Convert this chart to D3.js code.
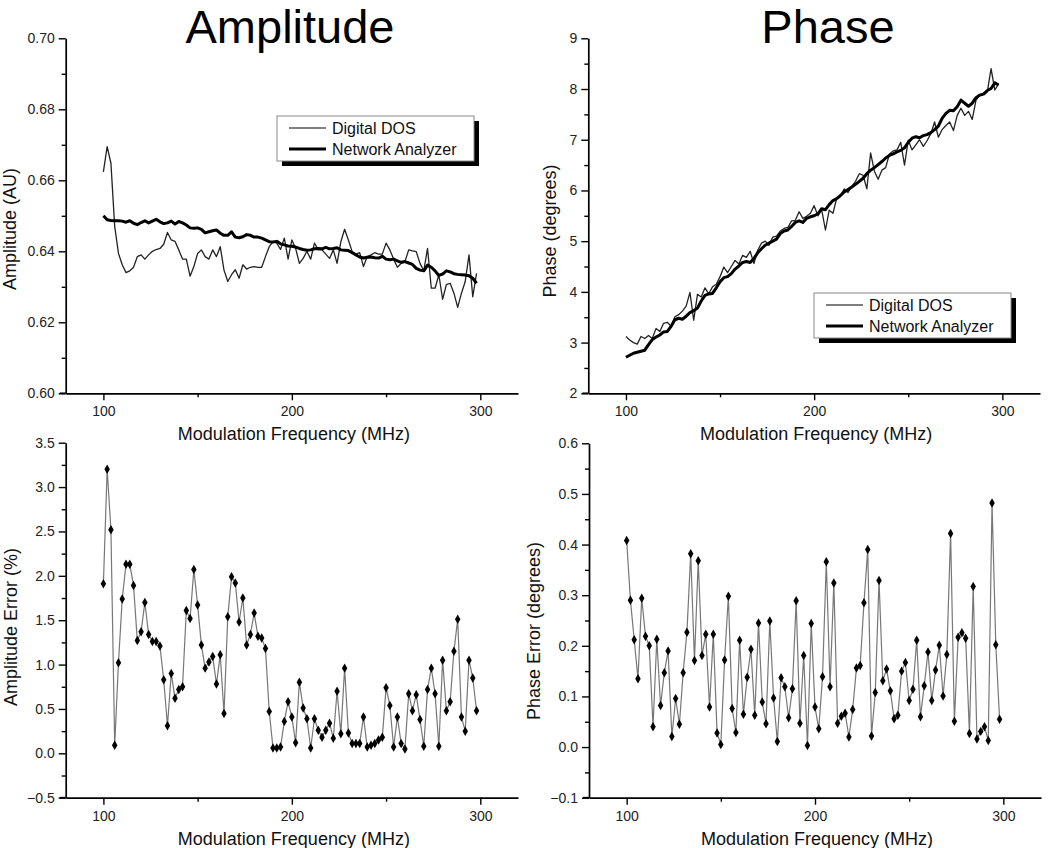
<!DOCTYPE html>
<html>
<head>
<meta charset="utf-8">
<script src="https://cdn.jsdelivr.net/npm/d3@7"></script>
<style>
  html, body { margin: 0; padding: 0; background: #fff; }
  svg { display: block; font-family: "Liberation Sans", Arial, sans-serif; }
</style>
</head>
<body>
<svg id="chart" width="1050" height="848"></svg>
<script>
// ---------------- DATA ----------------
const freq = [100,102,104,106,108,110,112,114,116,118,120,122,124,126,128,130,132,134,136,138,
  140,142,144,146,148,150,152,154,156,158,160,162,164,166,168,170,172,174,176,178,
  180,182,184,186,188,190,192,194,196,198,200,202,204,206,208,210,212,214,216,218,
  220,222,224,226,228,230,232,234,236,238,240,242,244,246,248,250,252,254,256,258,
  260,262,264,266,268,270,272,274,276,278,280,282,284,286,288,290,292,294,296,298];

const ampDigital = [0.6624,0.6695,0.6648,0.6470,0.6394,0.6362,0.6340,0.6345,0.6355,0.6385,
  0.6390,0.6378,0.6390,0.6400,0.6405,0.6408,0.6420,0.6453,0.6432,0.6428,
  0.6404,0.6378,0.6378,0.6330,0.6357,0.6394,0.6404,0.6385,0.6378,0.6404,
  0.6385,0.6413,0.6347,0.6315,0.6334,0.6348,0.6324,0.6362,0.6350,0.6355,
  0.6357,0.6355,0.6355,0.6385,0.6413,0.6427,0.6423,0.6405,0.6437,0.6378,
  0.6432,0.6408,0.6366,0.6380,0.6400,0.6378,0.6423,0.6405,0.6404,0.6392,
  0.6380,0.6404,0.6366,0.6427,0.6462,0.6432,0.6399,0.6392,0.6396,0.6357,
  0.6385,0.6390,0.6396,0.6392,0.6392,0.6423,0.6404,0.6378,0.6355,0.6366,
  0.6371,0.6404,0.6401,0.6399,0.6366,0.6345,0.6408,0.6296,0.6296,0.6334,
  0.6265,0.6306,0.6310,0.6282,0.6242,0.6282,0.6315,0.6390,0.6272,0.6338];

const ampNetwork = [0.6500,0.6489,0.6487,0.6486,0.6486,0.6485,0.6482,0.6486,0.6479,0.6475,
  0.6481,0.6486,0.6480,0.6485,0.6490,0.6483,0.6478,0.6480,0.6485,0.6477,
  0.6484,0.6480,0.6474,0.6466,0.6465,0.6466,0.6462,0.6452,0.6455,0.6458,
  0.6460,0.6451,0.6445,0.6445,0.6455,0.6440,0.6438,0.6441,0.6447,0.6445,
  0.6440,0.6440,0.6437,0.6432,0.6427,0.6426,0.6428,0.6421,0.6418,0.6415,
  0.6414,0.6412,0.6408,0.6405,0.6403,0.6404,0.6407,0.6408,0.6407,0.6411,
  0.6407,0.6408,0.6410,0.6404,0.6403,0.6402,0.6396,0.6390,0.6384,0.6381,
  0.6383,0.6384,0.6382,0.6381,0.6386,0.6378,0.6376,0.6378,0.6373,0.6369,
  0.6371,0.6367,0.6363,0.6352,0.6347,0.6345,0.6361,0.6355,0.6345,0.6332,
  0.6336,0.6345,0.6342,0.6337,0.6335,0.6334,0.6333,0.6331,0.6324,0.6310];

const phaseDigital = [3.12,3.05,3.00,2.97,3.12,3.08,3.14,3.08,3.28,3.22,
  3.38,3.40,3.32,3.51,3.55,3.62,3.72,3.99,3.44,3.95,
  3.90,4.08,3.96,4.10,4.15,4.30,4.49,4.38,4.50,4.62,
  4.55,4.72,4.68,4.80,4.56,4.82,4.96,5.00,4.92,5.08,
  5.10,5.20,5.25,5.27,5.40,5.41,5.58,5.45,5.49,5.55,
  5.70,5.50,5.62,5.22,5.61,5.55,5.85,5.90,6.03,5.96,
  6.08,6.18,6.33,6.30,6.03,6.74,6.38,6.22,6.40,6.45,
  6.72,6.78,6.80,6.95,6.50,6.99,6.80,6.90,7.00,6.87,
  6.98,7.12,7.35,7.05,7.20,7.28,7.35,7.18,7.48,7.62,
  7.48,7.56,7.40,7.78,7.88,7.92,7.95,8.40,7.98,8.10];

const phaseNetwork = [2.71,2.75,2.79,2.81,2.83,2.85,2.96,3.06,3.11,3.15,
  3.21,3.22,3.32,3.45,3.48,3.46,3.52,3.59,3.63,3.68,
  3.82,3.93,3.96,3.97,4.08,4.20,4.28,4.30,4.36,4.45,
  4.51,4.58,4.60,4.58,4.66,4.77,4.85,4.92,4.96,5.00,
  5.04,5.15,5.20,5.22,5.29,5.37,5.40,5.37,5.45,5.48,
  5.50,5.54,5.64,5.62,5.72,5.80,5.84,5.90,5.97,6.02,
  6.07,6.12,6.18,6.24,6.33,6.40,6.45,6.51,6.57,6.64,
  6.69,6.72,6.76,6.79,6.84,6.95,7.03,7.06,7.04,7.08,
  7.10,7.14,7.20,7.27,7.42,7.52,7.58,7.57,7.65,7.78,
  7.72,7.66,7.72,7.83,7.88,7.90,7.97,8.01,8.12,8.08];

const ampError = [1.91,3.20,2.52,0.09,1.02,1.74,2.13,2.13,1.89,1.27,
  1.37,1.70,1.34,1.26,1.26,1.21,0.83,0.31,0.90,0.62,
  0.72,0.75,1.61,1.52,2.07,1.67,1.22,0.96,1.03,1.09,
  0.78,1.11,0.45,1.54,1.99,1.92,1.48,1.75,1.22,1.34,
  1.58,1.32,1.30,1.18,0.47,0.06,0.06,0.07,0.36,0.58,
  0.41,0.12,0.80,0.51,0.39,0.06,0.39,0.26,0.18,0.26,
  0.34,0.17,0.70,0.22,0.96,0.23,0.11,0.11,0.11,0.41,
  0.07,0.09,0.11,0.15,0.18,0.74,0.54,0.07,0.41,0.11,
  0.05,0.67,0.48,0.66,0.38,0.08,0.72,0.96,0.67,0.08,
  1.05,0.48,0.58,1.15,1.51,0.41,0.25,1.05,0.85,0.48];

const phaseError = [0.408,0.290,0.212,0.135,0.294,0.219,0.200,0.040,0.213,0.082,
  0.147,0.190,0.021,0.096,0.045,0.147,0.227,0.382,0.171,0.368,
  0.181,0.223,0.079,0.223,0.028,0.005,0.172,0.298,0.076,0.029,
  0.211,0.065,0.138,0.193,0.063,0.245,0.089,0.046,0.249,0.097,
  0.011,0.137,0.119,0.058,0.115,0.289,0.047,0.181,0.003,0.244,
  0.079,0.036,0.139,0.366,0.119,0.324,0.047,0.061,0.067,0.020,
  0.074,0.156,0.161,0.285,0.390,0.022,0.108,0.329,0.131,0.154,
  0.111,0.056,0.063,0.150,0.167,0.092,0.114,0.211,0.060,0.121,
  0.188,0.092,0.152,0.201,0.101,0.183,0.422,0.051,0.217,0.226,
  0.215,0.027,0.317,0.016,0.031,0.040,0.013,0.482,0.202,0.055];

const xTicks = [100, 200, 300];
const xMinorTicks = [150, 250];
const ampTicks = [0.60, 0.62, 0.64, 0.66, 0.68, 0.70];
const phaseTicks = [2, 3, 4, 5, 6, 7, 8, 9];
const ampErrTicks = [-0.5, 0.0, 0.5, 1.0, 1.5, 2.0, 2.5, 3.0, 3.5];
const phaseErrTicks = [-0.1, 0.0, 0.1, 0.2, 0.3, 0.4, 0.5, 0.6];
const legendLabels = ["Digital DOS", "Network Analyzer"];
const titles = ["Amplitude", "Phase"];
const xTitle = "Modulation Frequency (MHz)";

// ---------------- DRAW ----------------
const svg = d3.select("#chart");
const FONT = "'Liberation Sans', Arial, sans-serif";

function minorsOf(ticks) {
  const out = [];
  for (let i = 0; i < ticks.length - 1; i++) out.push((ticks[i] + ticks[i + 1]) / 2);
  return out;
}

function panel(cfg) {
  const g = svg.append("g");
  const x = d3.scaleLinear().domain([80, 320]).range([cfg.x0, cfg.x1]);
  const y = d3.scaleLinear().domain(cfg.yDomain).range([cfg.y0, cfg.y1]);

  // minor ticks
  const gxm = g.append("g").attr("transform", `translate(0,${cfg.y0})`)
    .call(d3.axisBottom(x).tickValues(xMinorTicks).tickSize(4).tickFormat(""));
  gxm.select(".domain").remove();
  const gym = g.append("g").attr("transform", `translate(${cfg.x0},0)`)
    .call(d3.axisLeft(y).tickValues(minorsOf(cfg.yTicks)).tickSize(4).tickFormat(""));
  gym.select(".domain").remove();

  // major axes
  g.append("g").attr("transform", `translate(0,${cfg.y0})`)
    .call(d3.axisBottom(x).tickValues(xTicks).tickSize(7).tickPadding(6).tickSizeOuter(0));
  g.append("g").attr("transform", `translate(${cfg.x0},0)`)
    .call(d3.axisLeft(y).tickValues(cfg.yTicks).tickSize(7).tickPadding(4)
      .tickSizeOuter(0).tickFormat(d3.format(cfg.fmt)));

  g.selectAll(".domain").attr("stroke", "#000").attr("stroke-width", 1.7);
  g.selectAll(".tick line").attr("stroke", "#000").attr("stroke-width", 1.4);
  g.selectAll(".tick text").attr("font-family", FONT).attr("font-size", 14).attr("fill", "#222");
  g.append("line").attr("x1", cfg.x0 - 6).attr("x2", cfg.x0)
    .attr("y1", cfg.y0).attr("y2", cfg.y0).attr("stroke", "#000").attr("stroke-width", 1.7);

  // axis titles
  g.append("text").attr("x", (cfg.x0 + cfg.x1) / 2 + 2).attr("y", cfg.y0 + 47)
    .attr("text-anchor", "middle").attr("font-family", FONT).attr("font-size", 18)
    .attr("fill", "#111").text(xTitle);
  g.append("text")
    .attr("transform", `translate(${cfg.yLabelX},${cfg.yLabelY}) rotate(-90)`)
    .attr("text-anchor", "middle").attr("font-family", FONT).attr("font-size", 18)
    .attr("fill", "#111").text(cfg.yLabel);

  return { g, x, y };
}

function legend(g, lx, ly) {
  const w = 197, h = 45;
  g.append("rect").attr("x", lx + 5).attr("y", ly + 5).attr("width", w).attr("height", h).attr("fill", "#000");
  g.append("rect").attr("x", lx).attr("y", ly).attr("width", w).attr("height", h)
    .attr("fill", "#fff").attr("stroke", "#888").attr("stroke-width", 1);
  const rows = [
    { label: legendLabels[0], sw: 1.1, dy: 12 },
    { label: legendLabels[1], sw: 3, dy: 33 }
  ];
  rows.forEach(r => {
    g.append("line").attr("x1", lx + 12).attr("x2", lx + 49)
      .attr("y1", ly + r.dy).attr("y2", ly + r.dy)
      .attr("stroke", "#000").attr("stroke-width", r.sw);
    g.append("text").attr("x", lx + 55).attr("y", ly + r.dy + 5.5)
      .attr("font-family", FONT).attr("font-size", 16).attr("fill", "#111").text(r.label);
  });
}

function drawLines(p, s1, s2) {
  const line1 = d3.line().x((d, i) => p.x(freq[i])).y(d => p.y(d));
  p.g.append("path").datum(s1).attr("d", line1).attr("fill", "none")
    .attr("stroke", "#222").attr("stroke-width", 1.3).attr("stroke-linejoin", "round");
  p.g.append("path").datum(s2).attr("d", line1).attr("fill", "none")
    .attr("stroke", "#000").attr("stroke-width", 3).attr("stroke-linejoin", "round");
}

function drawErr(p, s) {
  const line = d3.line().x((d, i) => p.x(freq[i])).y(d => p.y(d));
  p.g.append("path").datum(s).attr("d", line).attr("fill", "none")
    .attr("stroke", "#777").attr("stroke-width", 1.2);
  const sym = d3.symbol().type(d3.symbolDiamond).size(26);
  p.g.selectAll("path.pt").data(s).join("path").attr("class", "pt")
    .attr("d", sym)
    .attr("transform", (d, i) => `translate(${p.x(freq[i])},${p.y(d)})`)
    .attr("fill", "#000");
}

// Top-left: Amplitude
const pA = panel({ x0: 65.7, x1: 518, y0: 393.3, y1: 38.3, yDomain: [0.60, 0.70],
  yTicks: ampTicks, fmt: ".2f", yLabel: "Amplitude (AU)", yLabelX: 16, yLabelY: 229 });
drawLines(pA, ampDigital, ampNetwork);
legend(pA.g, 277, 116);

// Top-right: Phase
const pP = panel({ x0: 588.3, x1: 1040, y0: 393.3, y1: 38.3, yDomain: [2, 9],
  yTicks: phaseTicks, fmt: "d", yLabel: "Phase (degrees)", yLabelX: 556, yLabelY: 231 });
drawLines(pP, phaseDigital, phaseNetwork);
legend(pP.g, 814, 293);

// Bottom-left: Amplitude Error
const pAE = panel({ x0: 65.7, x1: 518, y0: 797.7, y1: 442.7, yDomain: [-0.5, 3.5],
  yTicks: ampErrTicks, fmt: ".1f", yLabel: "Amplitude Error (%)", yLabelX: 17, yLabelY: 627 });
drawErr(pAE, ampError);

// Bottom-right: Phase Error
const pPE = panel({ x0: 589, x1: 1041, y0: 797.7, y1: 443.3, yDomain: [-0.1, 0.6],
  yTicks: phaseErrTicks, fmt: ".1f", yLabel: "Phase Error (degrees)", yLabelX: 540, yLabelY: 631 });
drawErr(pPE, phaseError);

// Big titles
svg.append("text").attr("x", 290).attr("y", 43).attr("text-anchor", "middle")
  .attr("font-family", FONT).attr("font-size", 47).attr("fill", "#000").text(titles[0]);
svg.append("text").attr("x", 828).attr("y", 43).attr("text-anchor", "middle")
  .attr("font-family", FONT).attr("font-size", 47).attr("fill", "#000").text(titles[1]);
</script>
</body>
</html>
